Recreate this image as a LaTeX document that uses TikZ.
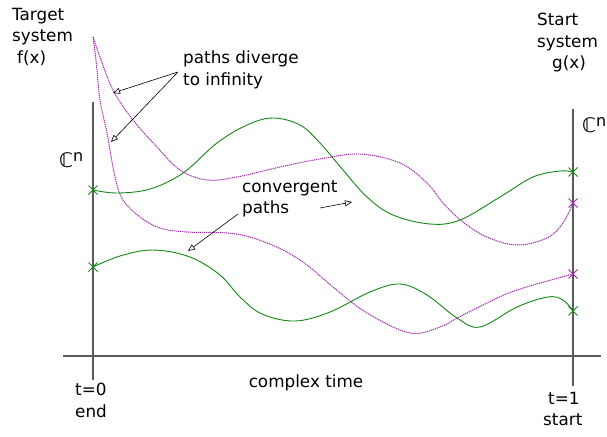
\documentclass[tikz,border=0pt]{standalone}
\usepackage{fontspec}
\setmainfont{DejaVu Sans}
\usetikzlibrary{arrows.meta}
\definecolor{pgreen}{RGB}{20,135,20}
\definecolor{pmag}{RGB}{160,40,170}
\definecolor{axgray}{RGB}{90,90,90}
\begin{document}
\begin{tikzpicture}[x=1pt,y=-1pt,
  axis/.style={draw=axgray,line width=1.1pt},
  conv/.style={draw=pgreen,line width=0.9pt},
  div/.style={draw=pmag,line width=1pt,dash pattern=on 1.2pt off 0.8pt},
  lbl/.style={font=\fontsize{16.8}{21.5}\selectfont,inner sep=0pt},
  note/.style={-{Triangle[open,length=7pt,width=6pt]},black,line width=0.6pt},
  xmark/.style={line width=0.9pt}]
\useasboundingbox (0,0) rectangle (607,436);
% axes
\coordinate (L0) at (93,102); \coordinate (L1) at (93,380);
\coordinate (R0) at (573,109); \coordinate (R1) at (573,386);
\coordinate (H0) at (63,356); \coordinate (H1) at (601,356);
\draw[axis] (L0) -- (L1);
\draw[axis] (R0) -- (R1);
\draw[axis] (H0) -- (H1);
% divergent paths
\draw[div] plot[smooth,tension=0.6] coordinates {(93,37) (100,57) (113,90) (133,120) (157,147) (180,170) (207,180) (237,177) (280,167) (320,159) (360,154) (400,163) (427,183) (443,203) (463,222) (487,237) (517,245) (547,238) (563,223) (573,203)};
\draw[div] plot[smooth,tension=0.6] coordinates {(93,37) (96,60) (100,100) (107,133) (115,177) (123,200) (140,217) (160,228) (187,232) (227,233) (253,238) (283,250) (307,265) (333,287) (367,313) (410,333) (440,327) (457,318) (487,303) (517,290) (573,274)};
% convergent paths
\draw[conv] plot[smooth,tension=0.6] coordinates {(93,190) (117,193) (150,189) (183,173) (217,143) (247,125) (273,118) (300,125) (320,143) (343,170) (367,197) (393,215) (430,224) (460,220) (500,197) (533,177) (560,171) (573,172)};
\draw[conv] plot[smooth,tension=0.6] coordinates {(93,267) (120,256) (153,250) (190,257) (220,275) (240,297) (262,314) (295,321) (330,312) (370,292) (400,284) (427,295) (457,318) (480,327) (517,307) (548,297) (563,300) (573,311)};
% marks
\foreach \p/\c in {{(93,190)}/pgreen,{(93,267)}/pgreen,{(573,172)}/pgreen,{(573,311)}/pgreen,{(573,203)}/pmag,{(573,274)}/pmag}{
  \draw[xmark,\c] \p ++(-4.5,-4.5) -- ++(9,9) \p ++(-4.5,4.5) -- ++(9,-9);
}
% labels
\node[lbl,anchor=north west,align=left] (tgt) at (12,8) {Target\\system\\\hspace*{5pt}f(x)};
\node[lbl,anchor=north west,align=left] (src) at (537,13) {Start\\system\\\hspace*{15pt}g(x)};
\node[lbl,anchor=west,align=left] (div) at (183,70) {paths diverge\\to infinity};
\node[lbl,anchor=west,align=left] (cvg) at (242,199) {convergent\\paths};
\node[lbl,anchor=west] (cl) at (59,160) {\fontsize{20}{20}\selectfont ℂ\raisebox{6pt}{\fontsize{16}{16}\selectfont n}};
\node[lbl,anchor=west] (cr) at (582,125) {\fontsize{20}{20}\selectfont ℂ\raisebox{6pt}{\fontsize{16}{16}\selectfont n}};
\node[lbl] (time) at (306,383) {complex time};
\node[lbl,anchor=north west,align=left] (t0) at (75,383) {t=0\\end};
\node[lbl,anchor=north west,align=left] (t1) at (543,392) {\hspace*{5pt}t=1\\start};
% annotation arrows
\coordinate (a1) at (113,93); \coordinate (a2) at (111,142);
\coordinate (a3) at (352,202); \coordinate (a4) at (188,251);
\coordinate (s1) at (178,72); \coordinate (s2) at (320,208); \coordinate (s3) at (238,214);
\draw[note] (s1) -- (a1);
\draw[note] (s1) -- (a2);
\draw[note] (s2) -- (a3);
\draw[note] (s3) -- (a4);
\end{tikzpicture}
\end{document}
